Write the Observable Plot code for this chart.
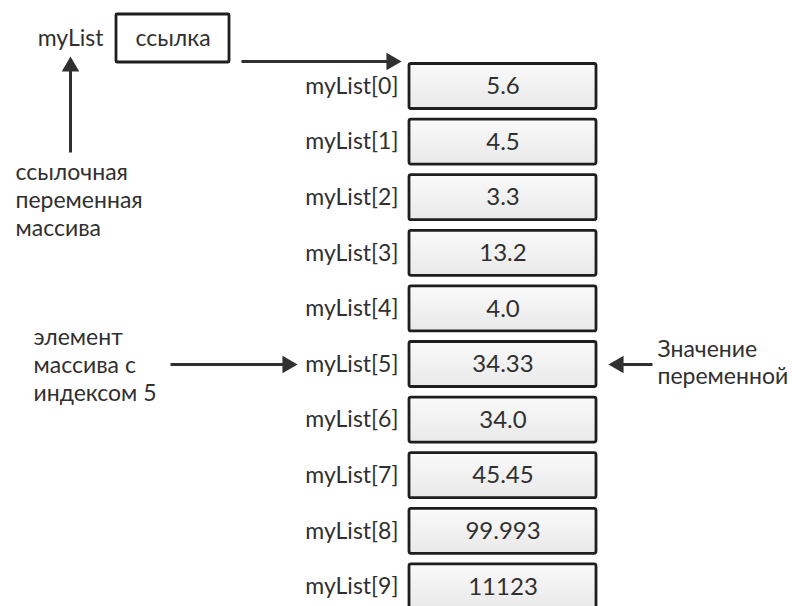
<!DOCTYPE html>
<html>
<head>
<meta charset="utf-8">
<script src="https://cdn.jsdelivr.net/npm/d3@7"></script>
<script src="https://cdn.jsdelivr.net/npm/@observablehq/plot@0.6"></script>
<style>
  html, body { margin: 0; padding: 0; background: #fff; }
  #chart svg { display: block; }
</style>
</head>
<body>
<div id="chart"></div>
<script>
// ---- data ----
const indices = [0, 1, 2, 3, 4, 5, 6, 7, 8, 9];
const elementLabels = indices.map(i => `myList[${i}]`);
const elementValues = ["5.6", "4.5", "3.3", "13.2", "4.0", "34.33", "34.0", "45.45", "99.993", "11123"];
const refName = "myList";
const refValue = "ссылка";
const refNoteLines = ["ссылочная", "переменная", "массива"];
const elementNoteLines = ["элемент", "массива с", "индексом 5"];
const valueNoteLines = ["Значение", "переменной"];
const highlightedIndex = 5;

// ---- layout in scale units (x: pixel-like units, y: row units) ----
const FONT = "Lato, 'Open Sans', sans-serif";
const INK = "#303030";
const FS = 23;
const boxX1 = 409, boxX2 = 596, boxHalf = 0.405;
const rows = indices.map((i) => ({i, label: elementLabels[i], value: elementValues[i]}));

// y: row i is centred at y = i; header lives at negative rows
const rowPx = 55.6, row0Px = 86;
const py = (px) => (px - row0Px) / rowPx; // helper for annotation placement

const refBox = {x1: 116, x2: 229, y1: py(14), y2: py(62)};
const refArrow = {x1: 241, x2: 391, y: py(61)};
const upArrow = {x: 70, y1: py(152), y2: py(66)};
const leftArrow = {x1: 170, x2: 287, y: highlightedIndex};
const rightArrow = {x1: 652, x2: 618, y: highlightedIndex};

const lineItems = (lines, x, y0, step) => lines.map((t, k) => ({t, x, y: y0 + k * step}));

const plot = Plot.plot({
  width: 792,
  height: 606,
  margin: 0,
  x: {domain: [0, 792], range: [0, 792], axis: null},
  y: {domain: [py(0), py(606)], range: [0, 606], axis: null},
  style: {background: "#fff", fontFamily: FONT},
  marks: [
    // array element boxes
    Plot.rect(rows, {
      x1: () => boxX1, x2: () => boxX2,
      y1: d => d.i - boxHalf, y2: d => d.i + boxHalf,
      fill: "url(#boxgrad)", stroke: "#1e1e1e", strokeWidth: 2.8, rx: 2
    }),
    Plot.text(rows, {
      x: () => (boxX1 + boxX2) / 2, y: "i", text: "value",
      fontSize: 24, fill: INK, fontFamily: FONT
    }),
    Plot.text(rows, {
      x: () => 398, y: "i", text: "label", textAnchor: "end",
      fontSize: FS, fill: INK, fontFamily: FONT
    }),
    // reference variable box
    Plot.rect([refBox], {x1: "x1", x2: "x2", y1: "y1", y2: "y2", fill: "#fff", stroke: "#1e1e1e", strokeWidth: 2.8, rx: 1}),
    Plot.text([refValue], {x: () => (refBox.x1 + refBox.x2) / 2, y: () => (refBox.y1 + refBox.y2) / 2, text: d => d, fontSize: FS, fill: INK, fontFamily: FONT}),
    Plot.text([refName], {x: () => 103, y: () => (refBox.y1 + refBox.y2) / 2, text: d => d, textAnchor: "end", fontSize: FS, fill: INK, fontFamily: FONT}),
    // arrows (shafts)
    Plot.link([refArrow, leftArrow, rightArrow], {x1: "x1", x2: "x2", y1: "y", y2: "y", stroke: INK, strokeWidth: 3}),
    Plot.link([upArrow], {x1: "x", x2: "x", y1: "y1", y2: "y2", stroke: INK, strokeWidth: 3}),
    // arrow heads
    Plot.dot([
      {x: refArrow.x2, y: refArrow.y, r: 90},
      {x: leftArrow.x2, y: leftArrow.y, r: 90},
      {x: rightArrow.x2, y: rightArrow.y, r: -90},
      {x: upArrow.x, y: upArrow.y2, r: 0}
    ], {x: "x", y: "y", rotate: "r", symbol: "triangle", r: 6.5, fill: INK, stroke: "none"}),
    // annotation notes
    Plot.text(lineItems(refNoteLines, 15, py(172), 28 / rowPx), {x: "x", y: "y", text: "t", textAnchor: "start", fontSize: FS, fill: INK, fontFamily: FONT}),
    Plot.text(lineItems(elementNoteLines, 33, py(337), 28 / rowPx), {x: "x", y: "y", text: "t", textAnchor: "start", fontSize: FS, fill: INK, fontFamily: FONT}),
    Plot.text(lineItems(valueNoteLines, 657, py(349), 27 / rowPx), {x: "x", y: "y", text: "t", textAnchor: "start", fontSize: FS, fill: INK, fontFamily: FONT})
  ]
});

// gradient used by the element boxes
const svg = d3.select(plot);
const defs = svg.insert("defs", ":first-child");
const g = defs.append("linearGradient").attr("id", "boxgrad").attr("x1", 0).attr("y1", 0).attr("x2", 0).attr("y2", 1);
g.append("stop").attr("offset", "0%").attr("stop-color", "#fafafa");
g.append("stop").attr("offset", "100%").attr("stop-color", "#e9e9e9");

document.getElementById("chart").appendChild(plot);
</script>
</body>
</html>
